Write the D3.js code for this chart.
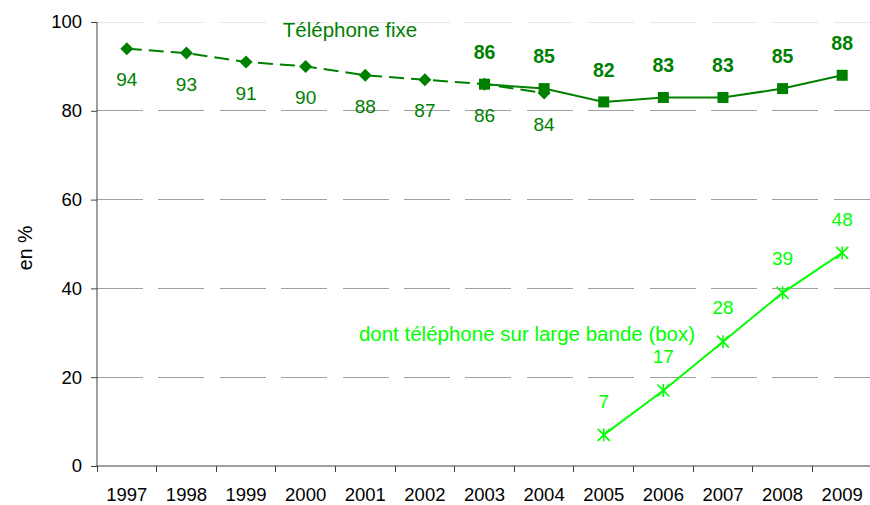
<!DOCTYPE html>
<html><head><meta charset="utf-8">
<script src="https://cdn.jsdelivr.net/npm/d3@7/dist/d3.min.js"></script>
<style>body{margin:0;background:#fff;} svg{display:block;font-family:"Liberation Sans",Arial,sans-serif;}</style>
</head><body>
<script>
const years = ["1997","1998","1999","2000","2001","2002","2003","2004","2005","2006","2007","2008","2009"];
const fixeOldYears = ["1997","1998","1999","2000","2001","2002","2003","2004"];
const fixeOldValues = [94, 93, 91, 90, 88, 87, 86, 84];
const fixeNewYears = ["2003","2004","2005","2006","2007","2008","2009"];
const fixeNewValues = [86, 85, 82, 83, 83, 85, 88];
const boxYears = ["2005","2006","2007","2008","2009"];
const boxValues = [7, 17, 28, 39, 48];
const yTicks = [0, 20, 40, 60, 80, 100];

const W = 870, H = 505;
const dark = "#008000", light = "#00ff00";
const FONT = "Liberation Sans, Arial, sans-serif";
const svg = d3.select("body").append("svg").attr("width", W).attr("height", H);
const x = d3.scaleBand().domain(years).range([97, 872]).padding(0);
const y = d3.scaleLinear().domain([0, 100]).range([466, 22]);
const cx = d => x(d) + x.bandwidth() / 2;

// gridlines
svg.append("g").selectAll("line").data(yTicks.filter(t => t > 0)).join("line")
  .attr("x1", 97).attr("x2", 872).attr("y1", d => y(d)).attr("y2", d => y(d))
  .attr("stroke", d => d === 100 ? "#e6e6e6" : "#a0a0a0").attr("stroke-width", 1)
  .attr("stroke-dasharray", "46,15.4").attr("shape-rendering", "crispEdges");

// y axis
const ya = svg.append("g").attr("transform", "translate(97,0)")
  .call(d3.axisLeft(y).tickValues(yTicks).tickSize(6).tickPadding(9));
ya.select(".domain").attr("stroke", "#404040").attr("d", `M0,${y(100)}V${y(0)}`);
ya.selectAll(".tick line").attr("stroke", "#404040");
ya.selectAll("text").attr("font-size", 18.5).attr("fill", "#000").attr("font-family", FONT);

// x axis
const xa = svg.append("g").attr("transform", `translate(0,${y(0)})`)
  .call(d3.axisBottom(x).tickSize(0).tickPadding(22));
xa.select(".domain").attr("stroke", "#404040").attr("d", `M97,0H872`);
xa.selectAll("text").attr("font-size", 18.5).attr("fill", "#000").attr("font-family", FONT);
svg.append("g").selectAll("line").data(years).join("line")
  .attr("x1", d => x(d)).attr("x2", d => x(d)).attr("y1", y(0)).attr("y2", y(0) + 6)
  .attr("stroke", "#404040").attr("shape-rendering", "crispEdges");

// y label
svg.append("text").attr("transform", "translate(25,248) rotate(-90)")
  .attr("text-anchor", "middle").attr("dy", "0.35em").attr("font-size", 19.5).text("en %");

const line = d3.line();

// old fixed series (dashed, diamonds)
svg.append("path").attr("fill", "none").attr("stroke", dark).attr("stroke-width", 2)
  .attr("stroke-dasharray", "15,7")
  .attr("d", line(fixeOldYears.map((d, i) => [cx(d), y(fixeOldValues[i])])));
svg.append("g").selectAll("path").data(fixeOldYears).join("path")
  .attr("d", d3.symbol(d3.symbolDiamond2 || d3.symbolSquare, 108)())
  .attr("transform", (d, i) => `translate(${cx(d)},${y(fixeOldValues[i])})${d3.symbolDiamond2 ? "" : " rotate(45)"}`)
  .attr("fill", dark);
svg.append("g").selectAll("text").data(fixeOldYears).join("text")
  .attr("x", d => cx(d)).attr("y", (d, i) => y(fixeOldValues[i]) + 31)
  .attr("dy", "0.35em").attr("text-anchor", "middle").attr("font-size", 19).attr("fill", dark)
  .text((d, i) => fixeOldValues[i]);

// new fixed series (solid, squares)
svg.append("path").attr("fill", "none").attr("stroke", dark).attr("stroke-width", 2)
  .attr("d", line(fixeNewYears.map((d, i) => [cx(d), y(fixeNewValues[i])])));
svg.append("g").selectAll("rect").data(fixeNewYears).join("rect")
  .attr("x", d => cx(d) - 5.5).attr("y", (d, i) => y(fixeNewValues[i]) - 5.5)
  .attr("width", 11).attr("height", 11).attr("fill", dark);
svg.append("g").selectAll("text").data(fixeNewYears).join("text")
  .attr("x", d => cx(d)).attr("y", (d, i) => y(fixeNewValues[i]) - 32)
  .attr("dy", "0.35em").attr("text-anchor", "middle").attr("font-size", 19.5).attr("font-weight", "bold").attr("fill", dark)
  .text((d, i) => fixeNewValues[i]);

// box series (light green, asterisks)
svg.append("path").attr("fill", "none").attr("stroke", light).attr("stroke-width", 2)
  .attr("d", line(boxYears.map((d, i) => [cx(d), y(boxValues[i])])));
const star = svg.append("g").selectAll("g").data(boxYears).join("g")
  .attr("transform", (d, i) => `translate(${cx(d)},${y(boxValues[i])})`)
  .attr("stroke", light).attr("stroke-width", 1.6);
star.append("line").attr("x1", 0).attr("x2", 0).attr("y1", -6.5).attr("y2", 6.5);
star.append("line").attr("x1", -6).attr("x2", 6).attr("y1", -6).attr("y2", 6);
star.append("line").attr("x1", -6).attr("x2", 6).attr("y1", 6).attr("y2", -6);
svg.append("g").selectAll("text").data(boxYears).join("text")
  .attr("x", d => cx(d)).attr("y", (d, i) => y(boxValues[i]) - 34)
  .attr("dy", "0.35em").attr("text-anchor", "middle").attr("font-size", 19).attr("fill", light)
  .text((d, i) => boxValues[i]);

// series annotations
svg.append("text").attr("x", 350).attr("y", 37).attr("text-anchor", "middle")
  .attr("font-size", 20.5).attr("fill", dark).text("Téléphone fixe");
svg.append("text").attr("x", 527).attr("y", 341).attr("text-anchor", "middle")
  .attr("font-size", 20.5).attr("fill", light).text("dont téléphone sur large bande (box)");
</script>
</body></html>
